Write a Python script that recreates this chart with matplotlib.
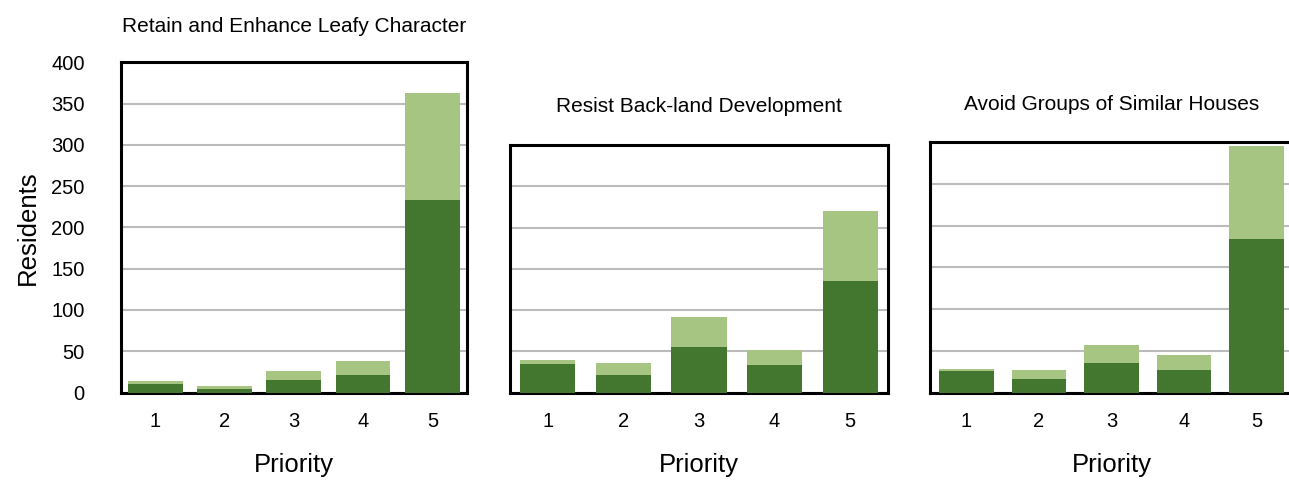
import matplotlib

matplotlib.use("Agg")
import matplotlib.pyplot as plt  # noqa: E402

plt.rcParams["font.family"] = ["Liberation Sans", "DejaVu Sans"]

# data
priorities = [1, 2, 3, 4, 5]
titles = [
    "Retain and Enhance Leafy Character",
    "Resist Back-land Development",
    "Avoid Groups of Similar Houses",
]
leafy_total = [14, 8, 26, 38, 363]
leafy_dark = [10, 4, 15, 21, 233]
backland_total = [39, 36, 92, 51, 220]
backland_dark = [35, 21, 55, 33, 135]
similar_total = [28, 27, 57, 45, 296]
similar_dark = [26, 16, 35, 27, 184]
y_max = [400, 300, 300]

DARK = "#43772F"
LIGHT = "#A6C482"
GRID = "#BBBBBB"

W, H = 1289, 480
fig = plt.figure(figsize=(W / 100, H / 100), dpi=100)

# axes boxes in pixels: left, right, top (bottom is shared)
boxes = [(120.7, 467.0, 62.3), (510.0, 888.0, 145.3), (930.0, 1293.0, 142.3)]
bottom_px = 392.5
bar_widths = [0.79, 0.73, 0.75]
title_pads = [21.5, 24, 23]

totals = [leafy_total, backland_total, similar_total]
darks = [leafy_dark, backland_dark, similar_dark]

for i, (l, r, t) in enumerate(boxes):
    ax = fig.add_axes([l / W, 1 - bottom_px / H, (r - l) / W, (bottom_px - t) / H])
    ax.bar(priorities, totals[i], width=bar_widths[i], color=LIGHT, zorder=2)
    ax.bar(priorities, darks[i], width=bar_widths[i], color=DARK, zorder=3)
    ax.set_xlim(0.5, 5.5)
    ax.set_ylim(0, y_max[i])
    ax.set_yticks(range(0, y_max[i] + 1, 50))
    ax.set_xticks(priorities)
    ax.grid(axis="y", color=GRID, linewidth=1.5)
    ax.set_axisbelow(True)
    for s in ax.spines.values():
        s.set_linewidth(2.2)
        s.set_color("black")
    ax.tick_params(axis="x", length=0, pad=14, labelsize=14.5)
    ax.tick_params(axis="y", length=0, pad=26, labelsize=14.5)
    if i > 0:
        ax.tick_params(axis="y", labelleft=False)
    else:
        ax.set_ylabel("Residents", fontsize=18.5, labelpad=8)
    ax.set_xlabel("Priority", fontsize=18.5, labelpad=16)
    ax.set_title(titles[i], fontsize=15, pad=title_pads[i])

fig.savefig("out.png", dpi=100)
